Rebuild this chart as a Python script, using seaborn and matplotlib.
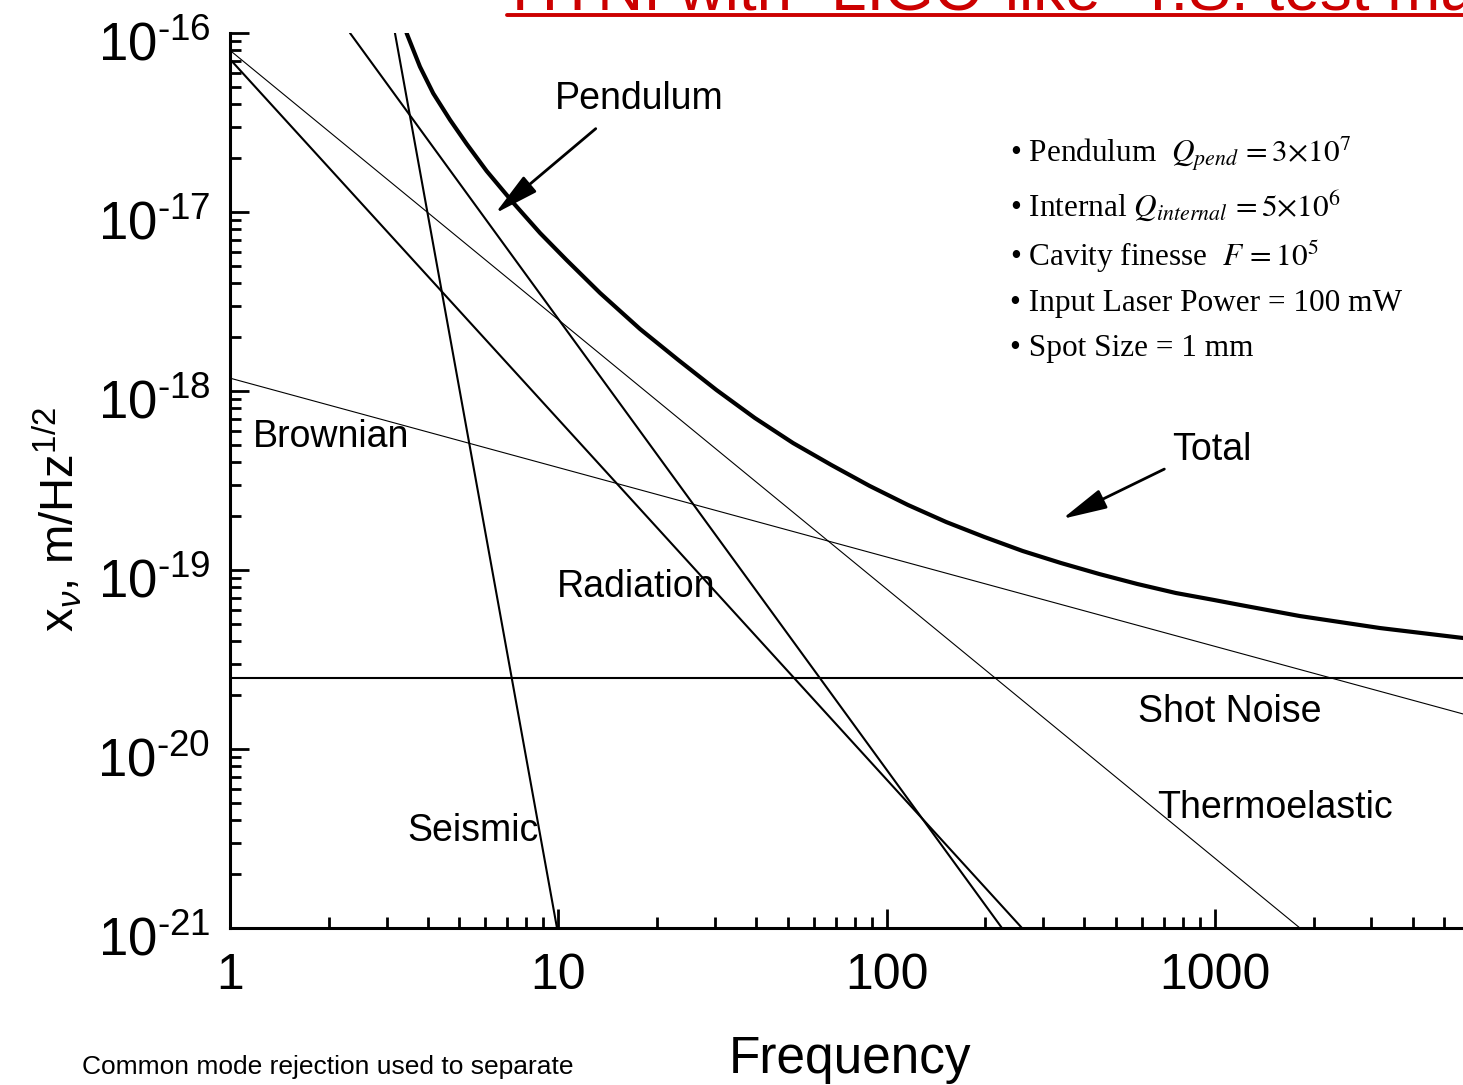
import matplotlib
matplotlib.use("Agg")
import matplotlib.pyplot as plt
from matplotlib.lines import Line2D
from matplotlib.ticker import FixedLocator, FuncFormatter, LogLocator, NullFormatter
from matplotlib.transforms import ScaledTranslation
import numpy as np
import seaborn as sns

# noise curves: frequency [Hz] and amplitude [m/Hz^1/2]
seismic_f = [3.18, 9.91]
seismic_x = [1.0e-16, 1.0e-21]

pendulum_f = [2.32, 224.6]
pendulum_x = [1.0e-16, 1.0e-21]

radiation_f = [1.0, 258.5]
radiation_x = [7.14e-17, 1.0e-21]

thermo_f = [1.0, 1816.0]
thermo_x = [8.0e-17, 1.0e-21]

brownian_f = [1.0, 5700.0]
brownian_x = [1.18e-18, 1.57e-20]

shot_f = [1.0, 5700.0]
shot_x = [2.5e-20, 2.5e-20]

total_f = [3.45, 3.79, 4.16, 4.68, 5.26, 6.05, 7.30, 8.80, 10.6, 13.4,
           17.74, 23.21, 30.33, 39.68, 51.9, 67.9, 88.77, 116.1, 151.9, 198.6,
           259.8, 339.8, 444.2, 581.0, 760.1, 993.8, 1193.0, 1816.0, 3184.0, 5700.0]
total_x = [1.0e-16, 6.48e-17, 4.60e-17, 3.27e-17, 2.40e-17, 1.694e-17, 1.123e-17, 7.63e-18, 5.39e-18, 3.53e-18,
           2.22e-18, 1.49e-18, 1.013e-18, 7.07e-19, 5.12e-19, 3.86e-19, 2.95e-19, 2.31e-19, 1.854e-19, 1.529e-19,
           1.277e-19, 1.094e-19, 9.50e-20, 8.35e-20, 7.44e-20, 6.80e-20, 6.38e-20, 5.53e-20, 4.74e-20, 4.17e-20]

x_ticks = [1, 10, 100, 1000]
x_tick_labels = ["1", "10", "100", "1000"]
y_ticks = [1e-21, 1e-20, 1e-19, 1e-18, 1e-17, 1e-16]

params = [
    r"• Pendulum  $Q_{pend}\,= 3{\times}10^{7}$",
    r"• Internal $Q_{internal}\,= 5{\times}10^{6}$",
    r"• Cavity finesse  $F\,= 10^{5}$",
    "• Input Laser Power = 100 mW",
    "• Spot Size = 1 mm",
]


def decade_label(v, pos):
    # plain hyphen in the exponent, as on the slide
    return "$\\mathregular{10^{\u2010%d}}$" % round(-np.log10(v))


sns.set_theme(style="ticks")
plt.rcParams["font.family"] = ["Liberation Sans", "DejaVu Sans"]
plt.rcParams.update({
    "mathtext.fontset": "custom",
    "mathtext.rm": "Liberation Sans",
    "mathtext.it": "Liberation Sans:italic",
    "text.color": "black",
    "axes.labelcolor": "black",
    "axes.edgecolor": "black",
    "xtick.color": "black",
    "ytick.color": "black",
    "axes.unicode_minus": False,
})

W, H = 1463, 1085
fig = plt.figure(figsize=(W / 100, H / 100), dpi=100)
ax = fig.add_axes([230 / W, 1 - 928 / H, 1 - 230 / W, (928 - 33) / H])
ax.set_xscale("log")
ax.set_yscale("log")

thin, mid, thick = 0.8, 1.5, 3.0
for f, x, lw in [
    (seismic_f, seismic_x, mid),
    (pendulum_f, pendulum_x, mid),
    (radiation_f, radiation_x, mid),
    (thermo_f, thermo_x, thin),
    (brownian_f, brownian_x, thin),
    (shot_f, shot_x, mid),
    (total_f, total_x, thick),
]:
    sns.lineplot(x=f, y=x, ax=ax, color="black", linewidth=lw, sort=False, estimator=None)

ax.set_xlim(1, 5700)
ax.set_ylim(1e-21, 1e-16)

for side in ("top", "right"):
    ax.spines[side].set_visible(False)
for side in ("left", "bottom"):
    ax.spines[side].set_linewidth(2.2)

ax.xaxis.set_major_locator(FixedLocator(x_ticks))
ax.xaxis.set_major_formatter(FuncFormatter(lambda v, pos: x_tick_labels[x_ticks.index(round(v))] if round(v) in x_ticks else ""))
ax.xaxis.set_minor_locator(LogLocator(base=10, subs=range(2, 10), numticks=20))
ax.xaxis.set_minor_formatter(NullFormatter())
ax.yaxis.set_major_locator(FixedLocator(y_ticks))
ax.yaxis.set_major_formatter(FuncFormatter(decade_label))
ax.yaxis.set_minor_locator(LogLocator(base=10, subs=range(2, 10), numticks=20))
ax.yaxis.set_minor_formatter(NullFormatter())

ax.tick_params(which="both", direction="in", width=2, color="black")
ax.tick_params(which="major", length=14)
ax.tick_params(axis="x", which="major", pad=18, labelsize=36)
ax.tick_params(axis="y", which="major", pad=14, labelsize=38)
ax.tick_params(which="minor", length=8)

ax.set_xlabel("Frequency", fontsize=37)
ax.xaxis.set_label_coords(0.503, -0.12)
ax.set_ylabel(r"x$_{\nu}$, m/Hz$^{1/2}$", fontsize=34)
ax.yaxis.set_label_coords(-0.118, 0.456)

# curve labels
lab = dict(fontsize=27, va="center", ha="left")
ax.text(9.77, 4.3e-17, "Pendulum", **lab)
ax.text(1.175, 5.53e-19, "Brownian", **lab)
ax.text(9.91, 8.0e-20, "Radiation", **lab)
ax.text(3.48, 3.5e-21, "Seismic", **lab)
ax.text(583, 1.6e-20, "Shot Noise", **lab)
ax.text(667, 4.7e-21, "Thermoelastic", **lab)
ax.text(740, 4.7e-19, "Total", **lab)

arrow = dict(arrowstyle="-|>,head_length=1.1,head_width=0.25", color="black", lw=2, mutation_scale=25)
ax.annotate("", xy=(6.33, 9.6e-18), xytext=(13.2, 2.99e-17), arrowprops=arrow)
ax.annotate("", xy=(337, 1.90e-19), xytext=(714, 3.72e-19), arrowprops=arrow)

# parameter list
for txt, base in zip(params, [163, 217, 266, 311, 356]):
    fig.text(1010 / W, 1 - base / H, txt, fontsize=22.5, family="Liberation Serif",
             math_fontfamily="stix", va="baseline", ha="left")

# slide title, cut off at the top edge
fig.text(512 / W, 1 - 10 / H, "HTNI with \u201cLIGO-like\u201d T.S. test mass", fontsize=46,
         color="#CC0000", va="baseline", ha="left")
fig.add_artist(Line2D([507 / W, 1.0], [1 - 15 / H, 1 - 15 / H], color="#CC0000", lw=2.8))

fig.text(82 / W, 1 - 1074 / H, "Common mode rejection used to separate", fontsize=19,
         va="baseline", ha="left")

# the y tick labels sit a bit below their ticks in the original
fig.canvas.draw()
shift = ScaledTranslation(0, -8 / 100, fig.dpi_scale_trans)
for tick in ax.yaxis.get_major_ticks():
    tick.label1.set_transform(tick.label1.get_transform() + shift)

fig.savefig("out.png", dpi=100)
